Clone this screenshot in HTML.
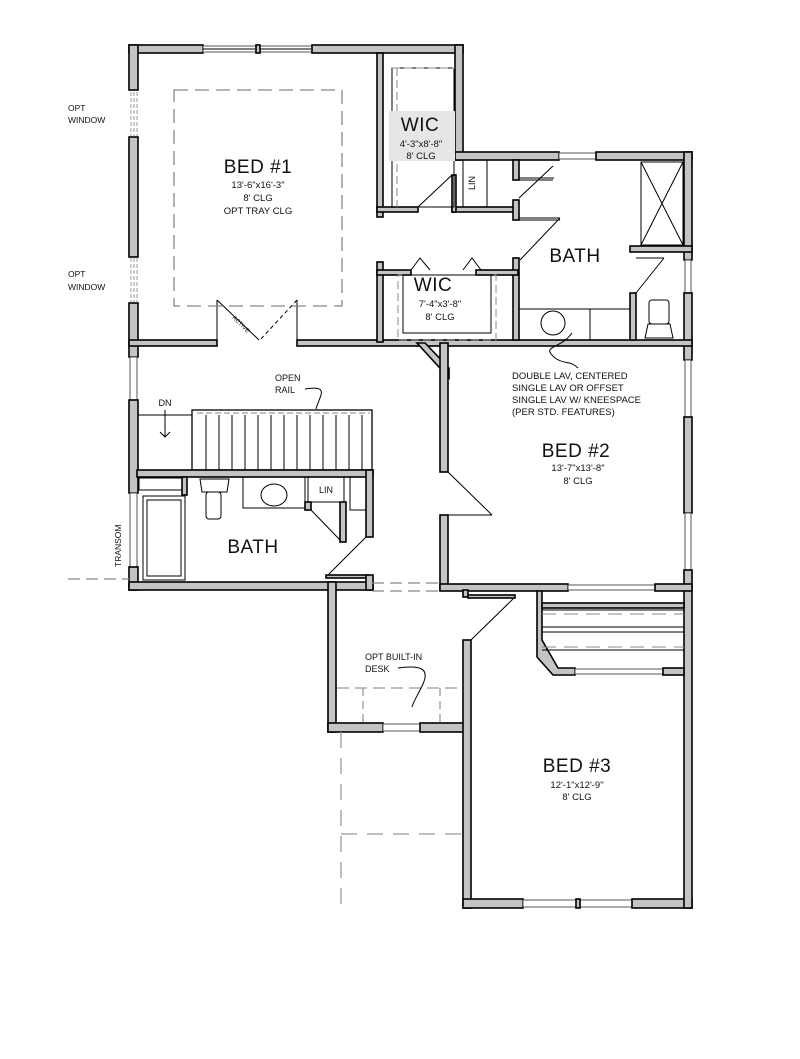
<!DOCTYPE html>
<html><head><meta charset="utf-8"><style>
html,body{margin:0;padding:0;background:#fff}
svg{display:block}
text{font-family:"Liberation Sans",sans-serif;fill:#111}
.w{fill:#c4c4c4;stroke:#000;stroke-width:1.6}
.win{fill:#fff;stroke:#555;stroke-width:1}
.ln{stroke:#000;stroke-width:1;fill:none}
.dash{stroke:#888;stroke-width:1.3;fill:none;stroke-dasharray:14 7}
.b{font-size:19px;font-weight:normal;letter-spacing:0.5px}
.s{font-size:9.5px}
</style></head><body>
<svg width="800" height="1059" viewBox="0 0 800 1059" xmlns="http://www.w3.org/2000/svg">
<!-- outer walls -->
<rect class="w" x="129" y="45" width="74" height="8"/>
<rect class="win" x="203" y="46" width="109" height="6"/><line class="ln" x1="203" y1="49" x2="312" y2="49"/><rect class="w" x="256" y="45" width="4" height="8"/>
<rect class="w" x="312" y="45" width="151" height="8"/>
<rect class="w" x="129" y="45" width="9" height="45"/>
<rect class="w" x="129" y="137" width="9" height="120"/>
<rect class="w" x="129" y="303" width="9" height="54"/>
<rect class="win" x="130" y="357" width="7" height="43"/>
<rect class="w" x="129" y="400" width="9" height="93"/>
<rect class="win" x="130" y="493" width="7" height="74"/>
<rect class="w" x="129" y="567" width="9" height="23"/>
<g stroke="#999" stroke-width="1" stroke-dasharray="4 2"><line x1="131" y1="92" x2="131" y2="136"/><line x1="134" y1="92" x2="134" y2="136"/><line x1="137" y1="92" x2="137" y2="136"/><line x1="131" y1="258" x2="131" y2="302"/><line x1="134" y1="258" x2="134" y2="302"/><line x1="137" y1="258" x2="137" y2="302"/></g>
<rect class="w" x="129" y="582" width="244" height="8"/>
<rect class="w" x="328" y="582" width="8" height="150"/>
<rect class="w" x="328" y="723" width="55" height="9"/>
<rect class="win" x="383" y="724" width="37" height="7"/>
<rect class="w" x="420" y="723" width="50" height="9"/>
<rect class="w" x="463" y="640" width="8" height="268"/>
<rect class="w" x="463" y="899" width="60" height="9"/>
<rect class="win" x="523" y="900" width="109" height="7"/><rect class="w" x="576" y="899" width="4" height="9"/>
<rect class="w" x="632" y="899" width="60" height="9"/>
<rect class="w" x="455" y="45" width="8" height="115"/>
<rect class="w" x="455" y="152" width="104" height="8"/>
<rect class="win" x="559" y="153" width="37" height="6"/>
<rect class="w" x="596" y="152" width="96" height="8"/>
<rect class="w" x="684" y="152" width="8" height="108"/>
<rect class="win" x="685" y="260" width="6" height="33"/>
<rect class="w" x="684" y="293" width="8" height="67"/>
<rect class="win" x="685" y="360" width="6" height="57"/>
<rect class="w" x="684" y="417" width="8" height="96"/>
<rect class="win" x="685" y="513" width="6" height="57"/>
<rect class="w" x="684" y="570" width="8" height="338"/>

<!-- Bed1 bottom wall -->
<rect class="w" x="129" y="340" width="88" height="6"/>
<rect class="w" x="297" y="340" width="395" height="6"/>
<line class="ln" x1="217" y1="300" x2="217" y2="340"/><line class="ln" x1="217" y1="300" x2="259" y2="340"/>
<line class="ln" x1="297" y1="300" x2="297" y2="340"/><line x1="297" y1="300" x2="260" y2="340" stroke="#000" stroke-dasharray="4 3"/>
<text x="232" y="318" font-size="6" fill="#888" transform="rotate(45 232 318)">ACTIVE</text>
<rect class="dash" x="174" y="90" width="168" height="216"/>

<!-- WIC1 -->
<rect class="w" x="377" y="53" width="6" height="164"/>
<rect class="w" x="377" y="207" width="41" height="5"/>
<rect class="w" x="452" y="207" width="66" height="5"/>
<rect class="w" x="452" y="175" width="4" height="37"/>
<line class="ln" x1="418" y1="207" x2="452" y2="175"/>
<rect x="392" y="68" width="62" height="139" fill="none" stroke="#000" stroke-width="1"/>
<line x1="392" y1="68" x2="455" y2="68" stroke="#888" stroke-dasharray="8 4"/>
<line x1="397" y1="68" x2="397" y2="207" stroke="#888" stroke-dasharray="8 4"/>
<rect x="389" y="111" width="66" height="50" fill="#e6e6e6"/>
<text class="b" x="420" y="131" text-anchor="middle">WIC</text>
<text class="s" x="421" y="147" text-anchor="middle">4'-3"x8'-8"</text>
<text class="s" x="421" y="159" text-anchor="middle">8' CLG</text>
<!-- LIN -->
<rect x="463" y="160" width="24" height="47" fill="none" stroke="#000"/>
<text x="475" y="183" font-size="9" text-anchor="middle" transform="rotate(-90 475 183)">LIN</text>
<rect class="w" x="513" y="160" width="6" height="20"/><rect class="w" x="513" y="200" width="6" height="20"/>
<line class="ln" x1="519" y1="180" x2="553" y2="180"/><line class="ln" x1="519" y1="178" x2="554" y2="178"/>
<line class="ln" x1="519" y1="220" x2="560" y2="220"/><line class="ln" x1="519" y1="218" x2="560" y2="218"/>
<line class="ln" x1="519" y1="198" x2="553" y2="166"/>
<line class="ln" x1="520" y1="260" x2="560" y2="218"/>
<rect class="w" x="513" y="258" width="6" height="82"/>
<!-- WIC2 -->
<rect class="w" x="377" y="262" width="6" height="80"/>
<rect class="w" x="377" y="270" width="34" height="5"/>
<rect class="w" x="476" y="270" width="42" height="5"/>
<polyline class="ln" points="411,270 420,258 430,270"/><polyline class="ln" points="463,270 472,258 481,270"/>
<rect x="398" y="275" width="98" height="65" fill="none" stroke="#888" stroke-dasharray="8 4"/>
<rect x="403" y="275" width="88" height="58" fill="none" stroke="#000"/>
<text class="b" x="433" y="291" text-anchor="middle">WIC</text>
<text class="s" x="440" y="307" text-anchor="middle">7'-4"x3'-8"</text>
<text class="s" x="440" y="320" text-anchor="middle">8' CLG</text>
<!-- master bath -->
<rect x="641" y="162" width="42" height="83" fill="none" stroke="#000"/>
<line class="ln" x1="641" y1="162" x2="683" y2="245"/><line class="ln" x1="683" y1="162" x2="641" y2="245"/>
<rect class="w" x="630" y="246" width="62" height="6"/>
<rect class="w" x="630" y="293" width="6" height="47"/>
<line class="ln" x1="636" y1="258" x2="664" y2="258"/><line class="ln" x1="636" y1="293" x2="664" y2="258"/>
<line class="ln" x1="519" y1="309" x2="630" y2="309"/><line class="ln" x1="590" y1="309" x2="590" y2="340"/>
<circle cx="553" cy="323" r="12" fill="none" stroke="#000"/>
<rect x="649" y="300" width="20" height="24" rx="3" fill="none" stroke="#000"/>
<path d="M645 338 L648 324 L670 324 L673 338 Z" fill="none" stroke="#000"/>
<text class="b" x="575" y="262" text-anchor="middle">BATH</text>
<path d="M572 333 C560 350 540 345 555 358 C565 365 570 360 578 368" class="ln"/>
<!-- Bed2 -->
<polygon class="w" points="417,343 425,343 449,368 449,378"/>
<rect class="w" x="440" y="343" width="8" height="129"/>
<rect class="w" x="440" y="515" width="8" height="75"/>
<line class="ln" x1="448" y1="472" x2="492" y2="515"/><line class="ln" x1="448" y1="515" x2="492" y2="515"/>
<rect class="w" x="440" y="584" width="128" height="7"/>
<rect class="win" x="568" y="585" width="87" height="5"/>
<rect class="w" x="655" y="584" width="37" height="7"/>
<g class="s" font-size="9.5"><text x="512" y="379">DOUBLE LAV, CENTERED</text><text x="512" y="391">SINGLE LAV OR OFFSET</text><text x="512" y="403">SINGLE LAV W/ KNEESPACE</text><text x="512" y="415">(PER STD. FEATURES)</text></g>
<text class="b" x="576" y="457" text-anchor="middle">BED #2</text>
<text class="s" x="578" y="471" text-anchor="middle">13'-7"x13'-8"</text>
<text class="s" x="578" y="484" text-anchor="middle">8' CLG</text>
<!-- stair -->
<line class="ln" x1="138" y1="415" x2="192" y2="415"/>
<rect x="192" y="410" width="180" height="60" fill="none" stroke="#000" stroke-width="1.3"/>
<line x1="197" y1="413" x2="370" y2="413" stroke="#888" stroke-dasharray="6 3"/>
<g stroke="#000" stroke-width="1">
<line x1="206" y1="415" x2="206" y2="470"/><line x1="219" y1="415" x2="219" y2="470"/><line x1="232" y1="415" x2="232" y2="470"/><line x1="245" y1="415" x2="245" y2="470"/><line x1="258" y1="415" x2="258" y2="470"/><line x1="271" y1="415" x2="271" y2="470"/><line x1="284" y1="415" x2="284" y2="470"/><line x1="297" y1="415" x2="297" y2="470"/><line x1="310" y1="415" x2="310" y2="470"/><line x1="323" y1="415" x2="323" y2="470"/><line x1="336" y1="415" x2="336" y2="470"/><line x1="349" y1="415" x2="349" y2="470"/><line x1="362" y1="415" x2="362" y2="470"/></g>
<text x="165" y="406" font-size="9" text-anchor="middle">DN</text>
<line class="ln" x1="165" y1="410" x2="165" y2="437"/><polyline class="ln" points="160,432 165,437 170,432"/>
<text x="275" y="381" font-size="9">OPEN</text><text x="275" y="393" font-size="9">RAIL</text>
<path d="M305 389 C330 385 320 395 316 409" class="ln"/>
<!-- lower bath -->
<rect class="w" x="137" y="470" width="236" height="7"/>
<rect class="w" x="182" y="477" width="5" height="18"/>
<rect x="139" y="478" width="43" height="12" fill="none" stroke="#000"/>
<rect x="143" y="496" width="42" height="84" fill="none" stroke="#000"/><rect x="147" y="500" width="34" height="76" fill="none" stroke="#000"/>
<path d="M200 479 L229 479 L227 492 L202 492 Z" fill="none" stroke="#000"/>
<rect x="206" y="492" width="15" height="27" rx="3" fill="none" stroke="#000"/>
<rect x="243" y="477" width="62" height="31" fill="none" stroke="#000"/>
<ellipse cx="274" cy="495" rx="13" ry="11" fill="none" stroke="#000"/>
<rect x="308" y="477" width="36" height="25" fill="none" stroke="#000"/>
<text x="326" y="493" font-size="9" text-anchor="middle">LIN</text>
<rect class="w" x="305" y="502" width="6" height="8"/>
<rect class="w" x="340" y="502" width="6" height="40"/>
<line class="ln" x1="311" y1="510" x2="340" y2="540"/>
<rect x="350" y="477" width="16" height="33" fill="none" stroke="#000"/>
<rect class="w" x="366" y="470" width="7" height="67"/>
<line class="ln" x1="366" y1="537" x2="326" y2="577"/>
<rect class="w" x="326" y="575" width="42" height="3"/>
<rect class="w" x="366" y="575" width="7" height="15"/>
<text class="b" x="253" y="553" text-anchor="middle">BATH</text>
<line x1="372" y1="583" x2="440" y2="583" stroke="#888" stroke-width="1.3" stroke-dasharray="12 6"/>
<line x1="372" y1="591" x2="440" y2="591" stroke="#888" stroke-width="1.3" stroke-dasharray="12 6"/>
<line x1="68" y1="579" x2="129" y2="579" stroke="#888" stroke-width="1.3" stroke-dasharray="12 6"/>
<!-- opt windows text -->
<g font-size="8.5"><text x="68" y="111">OPT</text><text x="68" y="123">WINDOW</text><text x="68" y="277">OPT</text><text x="68" y="290">WINDOW</text></g>
<text x="0" y="0" font-size="8.5" transform="translate(121 567) rotate(-90)">TRANSOM</text>
<!-- hall to bed3 door -->
<rect class="w" x="463" y="590" width="5" height="7"/>
<rect class="w" x="468" y="595" width="47" height="3"/>
<line class="ln" x1="471" y1="640" x2="515" y2="597"/>
<!-- desk -->
<line x1="337" y1="688" x2="463" y2="688" stroke="#999" stroke-width="1.3" stroke-dasharray="12 6"/>
<line x1="363" y1="688" x2="363" y2="723" stroke="#999" stroke-width="1.3" stroke-dasharray="8 5"/>
<line x1="440" y1="688" x2="440" y2="723" stroke="#999" stroke-width="1.3" stroke-dasharray="8 5"/>
<g font-size="9"><text x="365" y="660">OPT BUILT-IN</text><text x="365" y="672">DESK</text></g>
<path d="M398 668 C420 665 430 668 423 684 C418 695 414 700 412 707" class="ln"/>
<line x1="341" y1="732" x2="341" y2="905" stroke="#999" stroke-width="1.3" stroke-dasharray="16 10"/>
<line x1="341" y1="834" x2="463" y2="834" stroke="#999" stroke-width="1.3" stroke-dasharray="16 10"/>
<!-- closets -->
<polygon class="w" points="537,591 542,591 542,640 558,668 575,668 575,675 553,675 537,657"/>
<rect class="w" x="542" y="603" width="142" height="5" fill="none"/>
<line class="ln" x1="542" y1="610" x2="684" y2="610"/>
<line x1="542" y1="614" x2="684" y2="614" stroke="#888" stroke-dasharray="14 8"/>
<line class="ln" x1="542" y1="627" x2="684" y2="627"/>
<line class="ln" x1="542" y1="632" x2="684" y2="632"/>
<line x1="542" y1="647" x2="684" y2="647" stroke="#888" stroke-dasharray="14 8"/>
<line class="ln" x1="542" y1="650" x2="684" y2="650"/>
<rect class="win" x="575" y="669" width="88" height="5"/>
<rect class="w" x="663" y="668" width="21" height="7"/>
<text class="b" x="577" y="772" text-anchor="middle">BED #3</text>
<text class="s" x="577" y="788" text-anchor="middle">12'-1"x12'-9"</text>
<text class="s" x="577" y="800" text-anchor="middle">8' CLG</text>
<!-- Bed1 text -->
<text class="b" x="258" y="173" text-anchor="middle">BED #1</text>
<text class="s" x="258" y="188" text-anchor="middle">13'-6"x16'-3"</text>
<text class="s" x="258" y="201" text-anchor="middle">8' CLG</text>
<text class="s" x="258" y="214" text-anchor="middle">OPT TRAY CLG</text>
</svg>
</body></html>
